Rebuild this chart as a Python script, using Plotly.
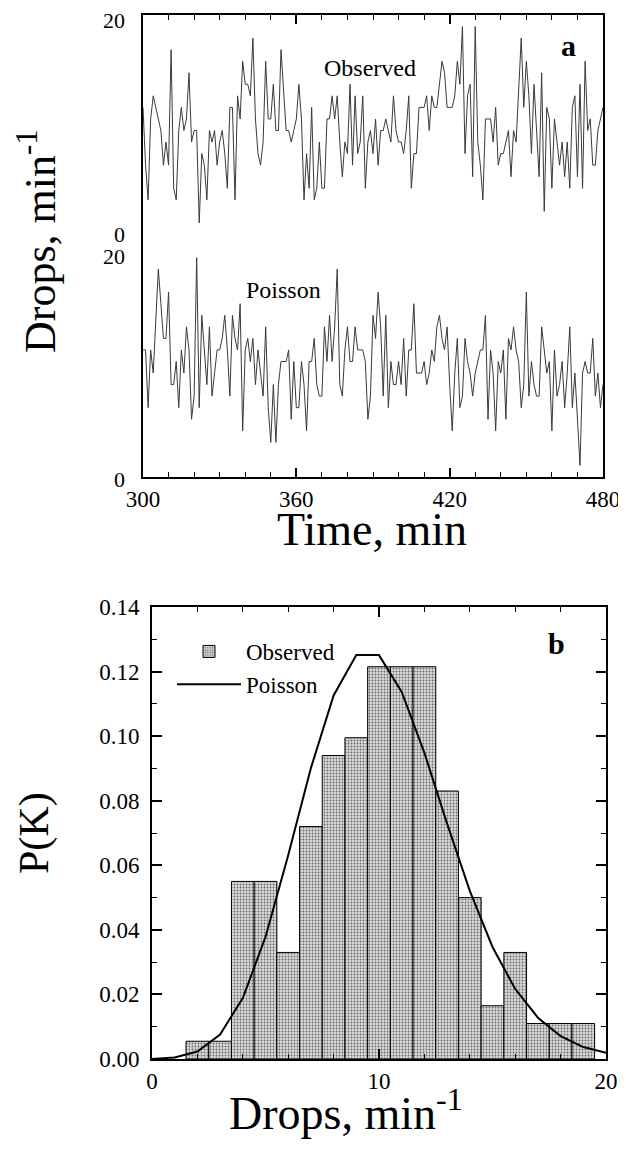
import plotly.graph_objects as go

# ---------------- data ----------------
time_min = list(range(300, 481))

observed_counts = [
    12, 7, 4, 11, 13, 12, 11, 10, 7, 9,
    7, 17, 5, 4, 10, 12, 10, 11, 15, 9,
    10, 10, 2, 8, 7, 4, 10, 9, 10, 7,
    9, 10, 8, 5, 12, 12, 4, 13, 11, 16,
    14, 14, 13, 18, 11, 8, 7, 9, 16, 11,
    11, 14, 10, 10, 17, 13, 10, 10, 9, 10,
    11, 14, 11, 4, 8, 5, 12, 4, 5, 9,
    5, 5, 11, 11, 13, 11, 13, 9, 6, 9,
    8, 14, 7, 13, 8, 9, 13, 5, 9, 10,
    8, 11, 7, 10, 10, 11, 10, 9, 13, 10,
    9, 9, 8, 10, 13, 5, 8, 8, 12, 12,
    12, 13, 10, 13, 12, 12, 14, 16, 15, 12,
    12, 12, 13, 16, 14, 19, 8, 13, 14, 6,
    19, 9, 7, 4, 11, 11, 11, 9, 12, 7,
    8, 8, 9, 10, 6, 10, 9, 13, 18, 12,
    16, 13, 8, 14, 10, 6, 15, 3, 12, 11,
    5, 11, 9, 7, 9, 6, 9, 5, 12, 13,
    6, 14, 5, 16, 10, 11, 7, 7, 10, 11,
    12,
]

poisson_counts = [
    11, 11, 6, 11, 9, 13, 18, 15, 12, 12,
    16, 8, 8, 10, 6, 11, 9, 13, 11, 5,
    7, 19, 6, 14, 11, 8, 13, 7, 9, 11,
    11, 12, 14, 11, 7, 14, 12, 11, 15, 4,
    11, 12, 10, 12, 8, 11, 9, 7, 13, 6,
    3, 8, 3, 8, 10, 10, 10, 11, 5, 10,
    6, 6, 10, 8, 4, 10, 10, 12, 8, 7,
    7, 13, 10, 14, 10, 13, 18, 8, 7, 11,
    13, 10, 10, 13, 11, 11, 11, 10, 5, 7,
    14, 12, 16, 13, 7, 14, 6, 10, 8, 8,
    10, 8, 12, 7, 11, 11, 15, 9, 9, 9,
    10, 8, 9, 11, 10, 13, 14, 12, 11, 13,
    8, 4, 9, 12, 6, 7, 12, 10, 9, 7,
    9, 10, 11, 11, 14, 5, 11, 9, 4, 10,
    9, 11, 5, 12, 11, 13, 11, 10, 6, 8,
    16, 7, 10, 8, 7, 7, 13, 11, 9, 10,
    4, 11, 7, 8, 10, 6, 9, 13, 6, 9,
    5, 1, 9, 10, 9, 9, 12, 7, 9, 6,
    8,
]

time_ticks = [300, 360, 420, 480]
panel_a_ticks = [0, 20]
panel_a_ticktext = ["0", "20"]

hist_k = list(range(2, 20))
hist_p = [0.0055, 0.0055, 0.055, 0.055, 0.033, 0.072, 0.094, 0.0995, 0.1215,
          0.1215, 0.1215, 0.083, 0.050, 0.0165, 0.033, 0.011, 0.011, 0.011]

poisson_k = list(range(0, 21))
poisson_p = [0.0000, 0.0005, 0.0023, 0.0076, 0.0189, 0.0378, 0.0631, 0.0901,
             0.1126, 0.1251, 0.1251, 0.1137, 0.0948, 0.0729, 0.0521, 0.0347,
             0.0217, 0.0128, 0.0071, 0.0037, 0.0019]

drops_ticks = [0, 10, 20]
pk_ticks = [0.00, 0.02, 0.04, 0.06, 0.08, 0.10, 0.12, 0.14]

# ---------------- layout helpers ----------------
# the page body adds an 8 px margin; positions below are in screen pixels
OFF = 8
W, H = 626 - OFF, 1149 - OFF
FONT = "Liberation Serif"


def px_x(p):
    return (p - OFF) / W


def px_y(p):
    return 1 - (p - OFF) / H


A_LEFT, A_RIGHT, A_TOP, A_MID, A_BOT = 143, 603, 15, 246, 477
B_LEFT, B_RIGHT, B_TOP, B_BOT = 152, 606, 607, 1059

axis_common = dict(
    showline=True, linecolor="black", linewidth=2,
    ticks="inside", tickcolor="black", tickwidth=1.5,
    showgrid=False, zeroline=False, automargin=False,
    tickfont=dict(family=FONT, size=23, color="black"),
)

fig = go.Figure()

fig.add_trace(go.Scatter(
    x=time_min, y=observed_counts, xaxis="x2", yaxis="y2", mode="lines",
    line=dict(color="#3a3a3a", width=1), showlegend=False, name="Observed"))
fig.add_trace(go.Scatter(
    x=time_min, y=poisson_counts, xaxis="x", yaxis="y", mode="lines",
    line=dict(color="#3a3a3a", width=1), showlegend=False, name="Poisson"))

fig.add_trace(go.Bar(
    x=hist_k, y=hist_p, width=1, xaxis="x3", yaxis="y3", name="Observed",
    marker=dict(color="#c8c8c8", line=dict(color="black", width=1),
                pattern=dict(shape=".", fgcolor="#6a6a6a", bgcolor="#d9d9d9",
                             size=3, solidity=0.3))))
fig.add_trace(go.Scatter(
    x=poisson_k, y=poisson_p, xaxis="x3", yaxis="y3", mode="lines",
    line=dict(color="black", width=2), name="Poisson"))

fig.update_layout(
    template="none",
    width=W, height=H, autosize=False,
    margin=dict(l=0, r=0, t=0, b=0, pad=0),
    paper_bgcolor="white", plot_bgcolor="white",
    font=dict(family=FONT, color="black"),
    showlegend=True,
    legend=dict(x=px_x(172), y=px_y(630), xanchor="left", yanchor="top",
                bgcolor="rgba(0,0,0,0)", font=dict(family=FONT, size=23),
                itemwidth=64, tracegroupgap=0),
    xaxis=dict(axis_common, domain=[px_x(A_LEFT), px_x(A_RIGHT)], anchor="y",
               range=[300, 480], tickvals=time_ticks, ticklen=9,
               minor=dict(dtick=10, tick0=300, ticks="inside", ticklen=5,
                          tickcolor="black", tickwidth=1)),
    xaxis2=dict(axis_common, domain=[px_x(A_LEFT), px_x(A_RIGHT)], anchor="y2",
                side="top", range=[300, 480], tickvals=time_ticks, ticklen=9,
                showticklabels=False,
                minor=dict(dtick=10, tick0=300, ticks="inside", ticklen=5,
                           tickcolor="black", tickwidth=1)),
    yaxis=dict(axis_common, domain=[px_y(A_BOT), px_y(A_MID)], anchor="x",
               range=[0, 20], tickvals=panel_a_ticks, ticklen=8,
               showticklabels=False, mirror="ticks"),
    yaxis2=dict(axis_common, domain=[px_y(A_MID), px_y(A_TOP)], anchor="x2",
                range=[0, 20], tickvals=panel_a_ticks, ticklen=8,
                showticklabels=False, mirror="ticks"),
    xaxis3=dict(axis_common, domain=[px_x(B_LEFT), px_x(B_RIGHT)], anchor="y3",
                range=[0, 20], tickvals=drops_ticks, ticklen=10, mirror="ticks",
                minor=dict(dtick=2, tick0=0, ticks="inside", ticklen=5,
                           tickcolor="black", tickwidth=1)),
    yaxis3=dict(axis_common, domain=[px_y(B_BOT), px_y(B_TOP)], anchor="x3",
                range=[0, 0.14], tickvals=pk_ticks, tickformat=".2f",
                ticklen=10, mirror="ticks", ticklabelstandoff=6,
                minor=dict(dtick=0.01, tick0=0, ticks="inside", ticklen=5,
                           tickcolor="black", tickwidth=1)),
)

ann = []
# panel a tick labels (shifted so the shared 0/20 do not collide)
label_font = dict(family=FONT, size=22, color="black")
for yref, shifts in (("y2", {20: -6, 0: 11}), ("y", {20: -10, 0: -2})):
    for v, t in zip(panel_a_ticks, panel_a_ticktext):
        ann.append(dict(xref="paper", yref=yref, x=px_x(127), y=v, text=t,
                        xanchor="right", yanchor="middle", yshift=shifts[v],
                        showarrow=False, font=label_font))


def label(x, y, text, size, angle=0):
    return dict(xref="paper", yref="paper", x=px_x(x), y=px_y(y), text=text,
                textangle=angle, xanchor="center", yanchor="middle",
                showarrow=False, font=dict(family=FONT, size=size, color="black"))


ann += [
    label(37, 241, "Drops, min<sup>-1</sup>", 44, -90),
    label(372, 529, "Time, min", 46),
    label(34, 833, "P(K)", 42, -90),
    label(346, 1110, "Drops, min<sup>-1</sup>", 46),
    label(370, 68, "Observed", 24),
    label(283, 290, "Poisson", 24),
    label(568, 45, "<b>a</b>", 30),
    label(556, 643, "<b>b</b>", 30),
]
fig.update_layout(annotations=ann)

fig.write_html("out.html")
